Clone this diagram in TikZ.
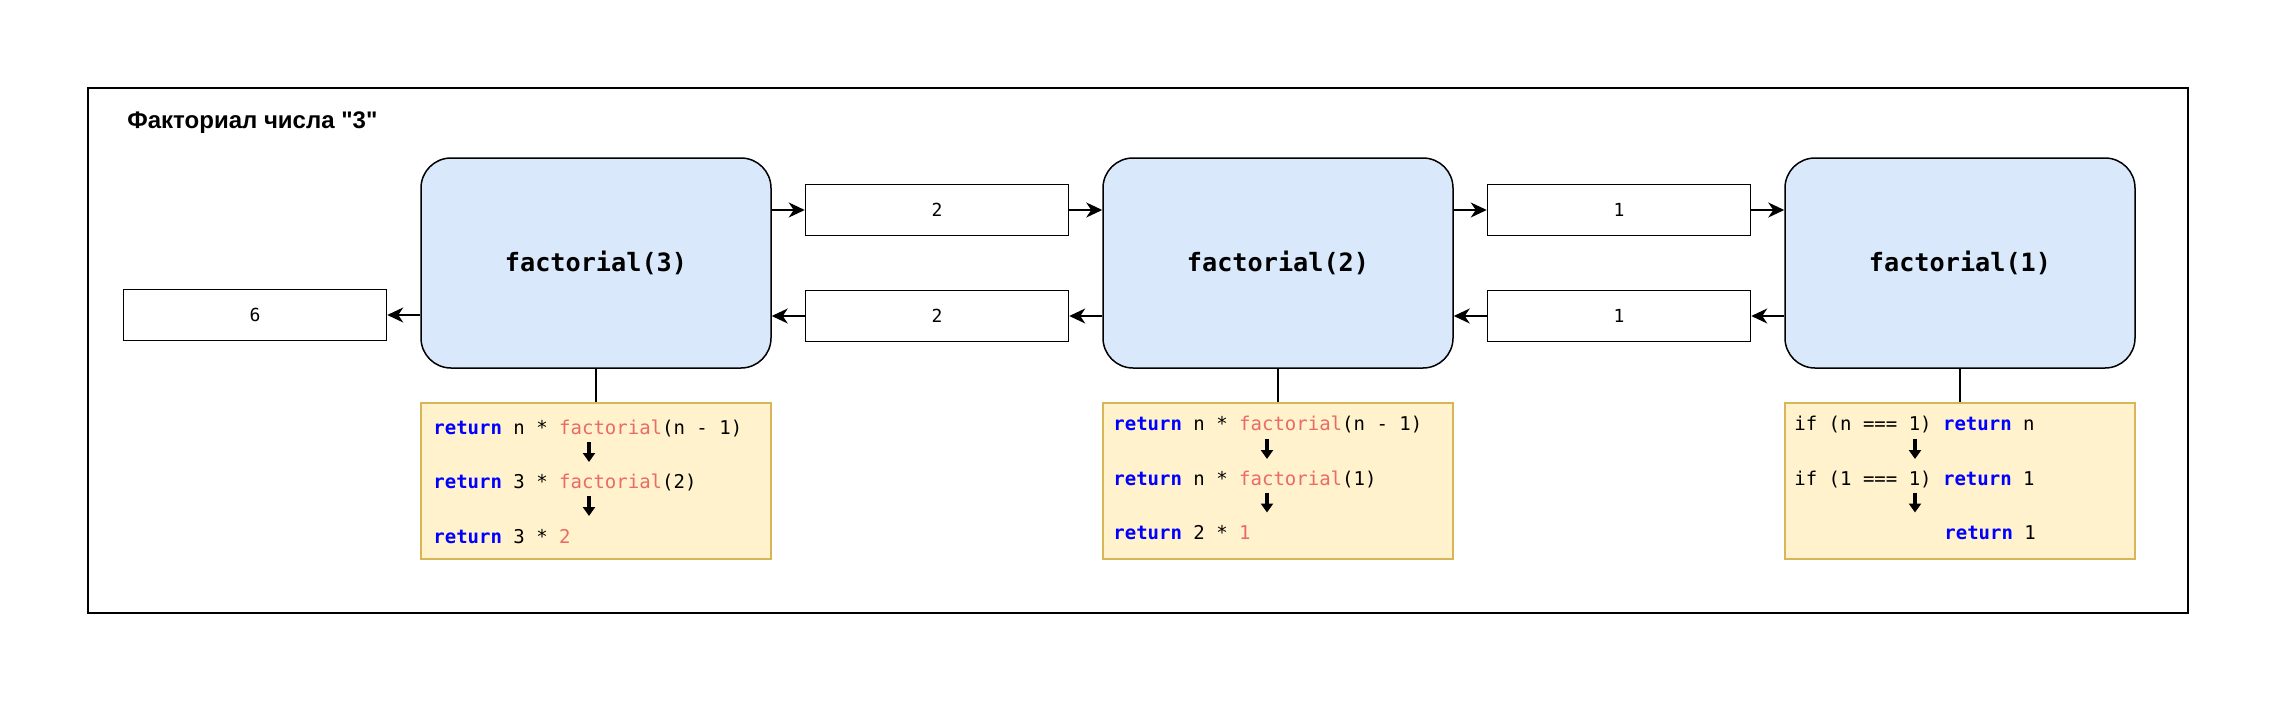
\documentclass[tikz,border=0pt]{standalone}
\usepackage{fontspec}
\setmainfont{Liberation Sans}[Ligatures=TeXOff]
\setmonofont{DejaVu Sans Mono}
\usetikzlibrary{arrows.meta}
\definecolor{callfill}{HTML}{DAE8FC}
\definecolor{codefill}{HTML}{FFF2CC}
\definecolor{codeedge}{HTML}{D6B656}
\definecolor{kwblue}{HTML}{0000FF}
\definecolor{fnred}{HTML}{EA6B66}
\newcommand{\kw}[1]{\textcolor{kwblue}{\bfseries #1}}
\newcommand{\fn}[1]{\textcolor{fnred}{#1}}
\tikzset{
	call/.style={draw, line width=0.75pt, fill=callfill, rounded corners=15pt, minimum width=175pt, minimum height=105pt, font=\ttfamily\bfseries\fontsize{12.6}{15}\selectfont},
	value/.style={draw, line width=0.75pt, minimum width=131.5pt, minimum height=25.5pt, font=\ttfamily\fontsize{9}{11}\selectfont},
	codebox/.style={draw=codeedge, line width=0.75pt, fill=codefill, minimum width=175pt, minimum height=78pt},
	codeline/.style={anchor=base west, inner sep=0pt, font=\ttfamily\fontsize{9.5}{11}\selectfont},
	flow/.style={-{Stealth[length=8pt,width=7.5pt,inset=2.5pt]}, line width=0.75pt},
	steparrow/.style={-{Triangle[length=4.5pt,width=6pt]}, line width=1.8pt}
}
\begin{document}
\begin{tikzpicture}[x=0.5pt, y=-0.5pt]
	\useasboundingbox (0,0) rectangle (2277,702);
	\draw[line width=0.75pt] (88,88) rectangle (2188,613);
	\node[anchor=west, inner sep=0pt, font=\bfseries\fontsize{12}{14}\selectfont] (title) at (127,123) {Факториал числа "3"};
	\node[call] (f3) at (596,263) {factorial(3)};
	\node[call] (f2) at (1278,263) {factorial(2)};
	\node[call] (f1) at (1960,263) {factorial(1)};
	\node[value] (r6) at (255,315) {6};
	\node[value] (a2) at (937,210) {2};
	\node[value] (b2) at (937,316) {2};
	\node[value] (a1) at (1619,210) {1};
	\node[value] (b1) at (1619,316) {1};
	\draw[flow] (f3.east |- a2) -- (a2);
	\draw[flow] (a2) -- (f2.west |- a2);
	\draw[flow] (f2.east |- a1) -- (a1);
	\draw[flow] (a1) -- (f1.west |- a1);
	\draw[flow] (f1.west |- b1) -- (b1);
	\draw[flow] (b1) -- (f2.east |- b1);
	\draw[flow] (f2.west |- b2) -- (b2);
	\draw[flow] (b2) -- (f3.east |- b2);
	\draw[flow] (f3.west |- r6) -- (r6);
	\node[codebox] (c3) at (596,481) {};
	\node[codebox] (c2) at (1278,481) {};
	\node[codebox] (c1) at (1960,481) {};
	\draw[line width=0.75pt] (f3) -- (c3);
	\draw[line width=0.75pt] (f2) -- (c2);
	\draw[line width=0.75pt] (f1) -- (c1);
	\node[codeline] (c3a) at (433,434) {\kw{return} n * \fn{factorial}(n - 1)};
	\node[codeline] (c3b) at (433,488.5) {\kw{return} 3 * \fn{factorial}(2)};
	\node[codeline] (c3c) at (433,543) {\kw{return} 3 * \fn{2}};
	\draw[steparrow] (589,442) -- (589,462);
	\draw[steparrow] (589,496) -- (589,516);
	\node[codeline] (c2a) at (1113,430.5) {\kw{return} n * \fn{factorial}(n - 1)};
	\node[codeline] (c2b) at (1113,485) {\kw{return} n * \fn{factorial}(1)};
	\node[codeline] (c2c) at (1113,539.5) {\kw{return} 2 * \fn{1}};
	\draw[steparrow] (1267,439) -- (1267,459);
	\draw[steparrow] (1267,492.5) -- (1267,512.5);
	\node[codeline] (c1a) at (1794,430.5) {if (n === 1) \kw{return} n};
	\node[codeline] (c1b) at (1794,485) {if (1 === 1) \kw{return} 1};
	\node[codeline] (c1c) at (1944,539.5) {\kw{return} 1};
	\draw[steparrow] (1915,439) -- (1915,459);
	\draw[steparrow] (1915,492.5) -- (1915,512.5);
\end{tikzpicture}
\end{document}
